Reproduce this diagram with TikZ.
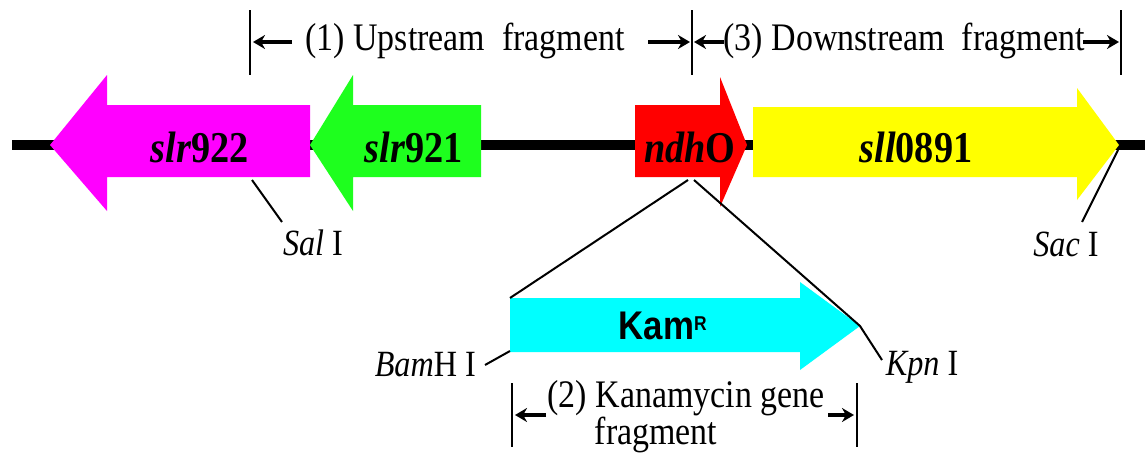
\documentclass[tikz,border=0pt]{standalone}
\usepackage{fontspec}
\setmainfont{Liberation Serif}
\newfontfamily\arialfont{Liberation Sans}
\usepackage{graphicx}
\usetikzlibrary{arrows.meta}
\definecolor{genemag}{RGB}{255,0,255}
\definecolor{genegrn}{RGB}{30,255,30}
\definecolor{genered}{RGB}{255,0,0}
\definecolor{geneyel}{RGB}{255,255,0}
\definecolor{genecyan}{RGB}{0,255,255}
\newcommand{\hsq}[1]{\scalebox{0.87}[1]{#1}}
\tikzset{
  genelbl/.style={inner sep=0pt, font=\fontsize{44}{44}\selectfont\bfseries},
  plainlbl/.style={inner sep=0pt, font=\fontsize{39}{39}\selectfont},
  sitelbl/.style={inner sep=0pt, font=\fontsize{37}{37}\selectfont},
  dimbar/.style={line width=2.5pt},
  dimarrow/.style={line width=4pt, -{Stealth[length=12pt,width=14pt]}},
  thinline/.style={line width=2pt},
}
\begin{document}
\begin{tikzpicture}[x=1pt,y=-1pt]
\useasboundingbox (0,0) rectangle (1145,461);
% backbone
\coordinate (bbL) at (12,145);
\coordinate (bbR) at (1145,145);
\draw[line width=10pt] (bbL) -- (bbR);
% gene arrows
\fill[genemag] (310,105) -- (107,105) -- (107,75) -- (50,145) -- (107,211) -- (107,177) -- (310,177) -- cycle;
\fill[genegrn] (481,105) -- (353,105) -- (353,75) -- (310,145) -- (353,211) -- (353,177) -- (481,177) -- cycle;
\fill[genered] (635,105) -- (720,105) -- (720,77) -- (747,145) -- (720,207) -- (720,177) -- (635,177) -- cycle;
\fill[geneyel] (753,107) -- (1077,107) -- (1077,88) -- (1119,145) -- (1077,200) -- (1077,177) -- (753,177) -- cycle;
\coordinate (kamTip) at (860,326);
\fill[genecyan] (510,298) -- (800,298) -- (800,282) -- (kamTip) -- (800,370) -- (800,352) -- (510,352) -- cycle;
% gene labels
\node[genelbl] (g922) at (200,147) {\hsq{\textit{slr}922}};
\node[genelbl] (g921) at (414,147) {\hsq{\textit{slr}921}};
\node[genelbl] (gndh) at (690,147) {\hsq{\textit{ndh}O}};
\node[genelbl] (g891) at (916,147) {\hsq{\textit{sll}0891}};
\node[inner sep=0pt, font=\fontsize{40}{40}\selectfont\arialfont\bfseries] (kam) at (663,326) {\hsq{Kam\textsuperscript{\fontsize{20}{20}\selectfont R}}};
% dimension (1) and (3)
\coordinate (b1t) at (250,10); \coordinate (b1b) at (250,75);
\coordinate (b2t) at (692,10); \coordinate (b2b) at (692,75);
\coordinate (b3t) at (1121,10); \coordinate (b3b) at (1121,75);
\draw[dimbar] (b1t) -- (b1b);
\draw[dimbar] (b2t) -- (b2b);
\draw[dimbar] (b3t) -- (b3b);
\node[plainlbl] (up) at (465,41) {\hsq{(1) Upstream\ \ fragment}};
\node[plainlbl] (down) at (904,41) {\hsq{(3) Downstream\ \ fragment}};
\coordinate (a1s) at (292,42); \coordinate (a1e) at (253,42);
\coordinate (a2s) at (648,42); \coordinate (a2e) at (690,42);
\coordinate (a3s) at (724,42); \coordinate (a3e) at (694,42);
\coordinate (a4s) at (1083,42); \coordinate (a4e) at (1119,42);
\draw[dimarrow] (a1s) -- (a1e);
\draw[dimarrow] (a2s) -- (a2e);
\draw[dimarrow] (a3s) -- (a3e);
\draw[dimarrow] (a4s) -- (a4e);
% restriction sites
\coordinate (salA) at (252,180); \coordinate (salB) at (282,222);
\draw[thinline] (salA) -- (salB);
\node[sitelbl] (sal) at (313,243) {\hsq{\textit{Sal} I}};
\coordinate (sacA) at (1118,150); \coordinate (sacB) at (1082,222);
\draw[thinline] (sacA) -- (sacB);
\node[sitelbl] (sac) at (1066,244) {\hsq{\textit{Sac} I}};
% insertion lines
\coordinate (insL) at (688,180); \coordinate (insR) at (694,180);
\coordinate (kamL) at (510,298); \coordinate (kpnEnd) at (882,360);
\draw[thinline] (insL) -- (kamL);
\draw[thinline] (insR) -- (kamTip) -- (kpnEnd);
\coordinate (bamA) at (510,351); \coordinate (bamB) at (485,365);
\draw[thinline] (bamA) -- (bamB);
\node[sitelbl, anchor=east] (bam) at (476,365) {\hsq{\textit{Bam}H I}};
\node[sitelbl] (kpn) at (922,367) {\hsq{\textit{Kpn} I}};
% dimension (2)
\coordinate (c1t) at (512,383); \coordinate (c1b) at (512,447);
\coordinate (c2t) at (857,383); \coordinate (c2b) at (857,447);
\draw[dimbar] (c1t) -- (c1b);
\draw[dimbar] (c2t) -- (c2b);
\coordinate (d1s) at (546,415); \coordinate (d1e) at (515,415);
\coordinate (d2s) at (828,415); \coordinate (d2e) at (854,415);
\draw[dimarrow] (d1s) -- (d1e);
\draw[dimarrow] (d2s) -- (d2e);
\node[plainlbl] (kan1) at (686,398) {\hsq{(2) Kanamycin gene}};
\node[plainlbl] (kan2) at (656,435) {\hsq{fragment}};
\end{tikzpicture}
\end{document}
